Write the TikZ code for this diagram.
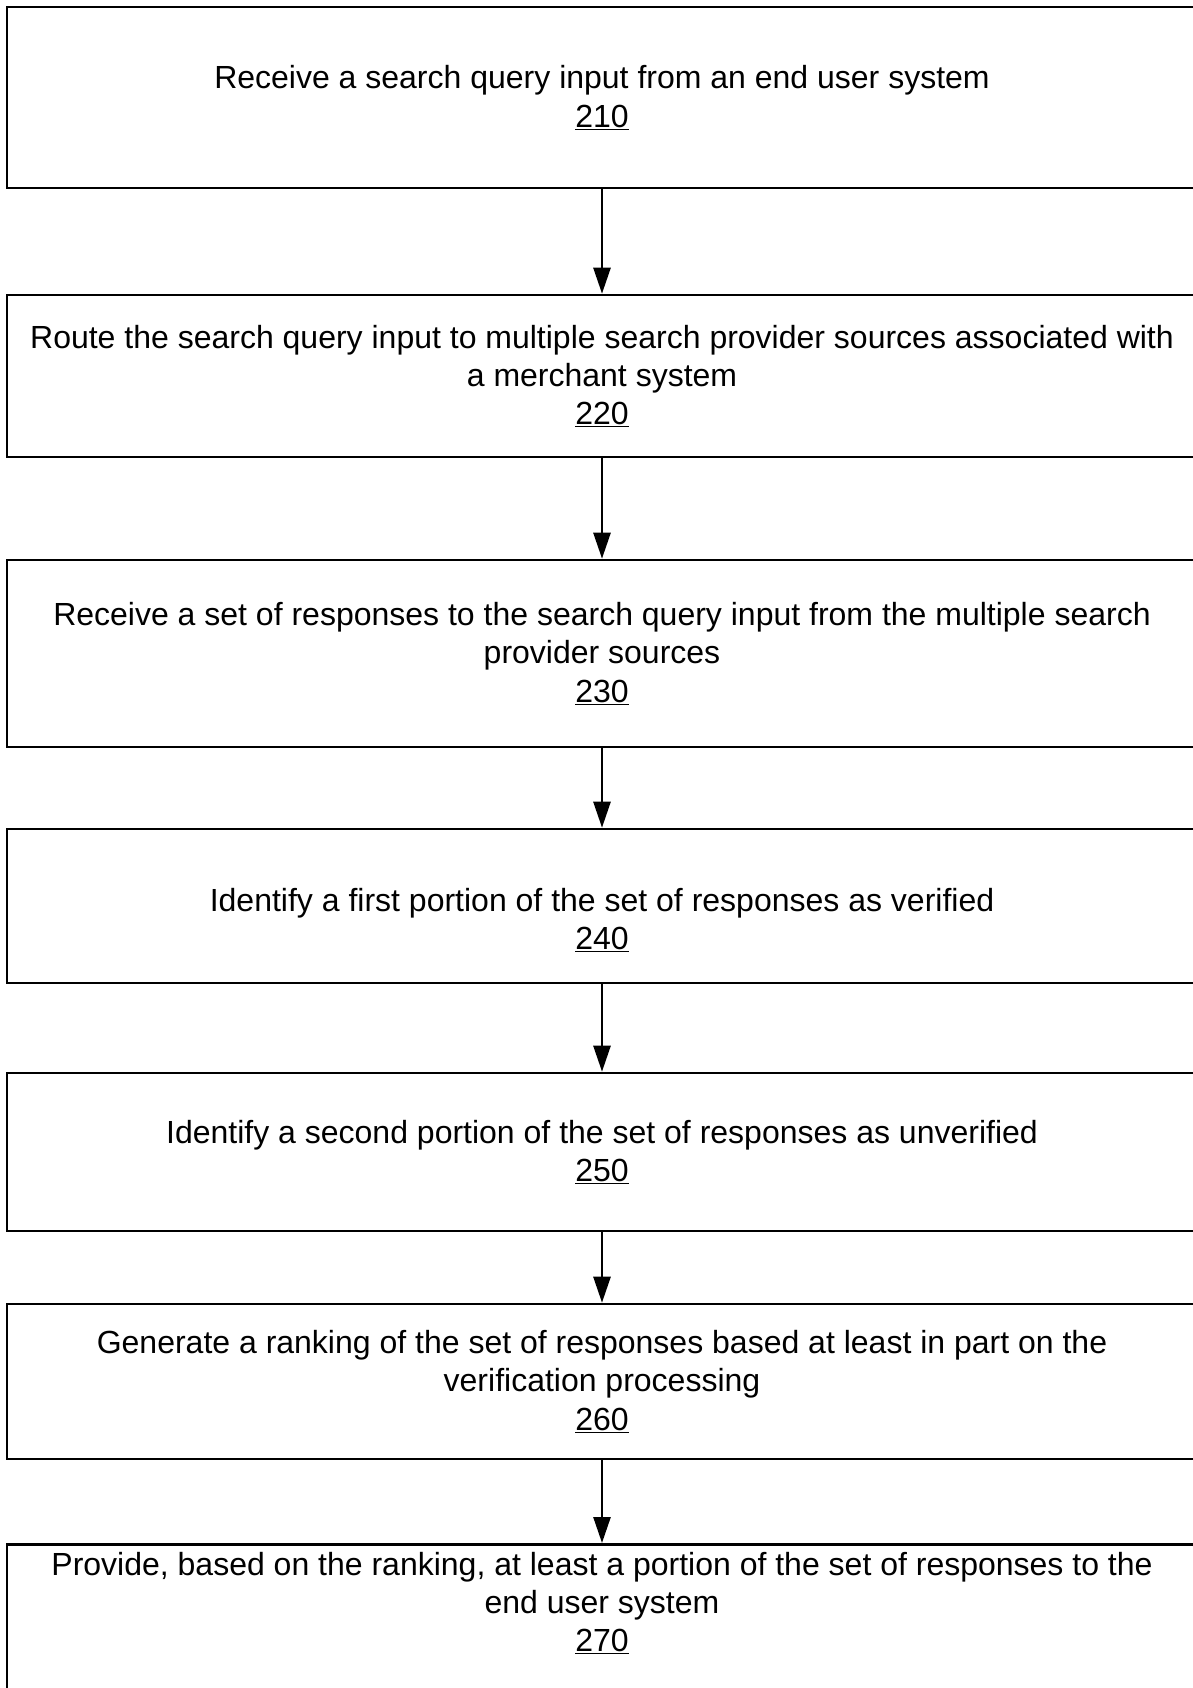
\documentclass[tikz,border=0pt]{standalone}
\usepackage{fontspec}
\setmainfont{Liberation Sans}
\usepackage{tikz}
\usetikzlibrary{arrows.meta,positioning}
\tikzset{
  stepbox/.style ={draw,line width=2.6pt,minimum width=1190pt,inner sep=0pt},
  steptext/.style={align=center,font=\fontsize{32}{38.3}\selectfont},
  flow/.style    ={-{Triangle[length=26pt,width=17pt]},line width=2.6pt},
}
\newcommand{\stepno}[1]{\underline{#1}}
\begin{document}
\begin{tikzpicture}[x=1pt,y=1pt]
  \useasboundingbox (0,0) rectangle (1193,-1688);
  \clip (0,0) rectangle (1193,-1688);
  % process steps
  \node[stepbox,steptext,minimum height=181pt] (s210) at (602,-97.5)
    {Receive a search query input from an end user system\\\stepno{210}};
  \node[stepbox,steptext,minimum height=162pt] (s220) at (602,-376)
    {Route the search query input to multiple search provider sources associated with\\a merchant system\\\stepno{220}};
  \node[stepbox,steptext,minimum height=187pt] (s230) at (602,-653.5)
    {Receive a set of responses to the search query input from the multiple search\\provider sources\\\stepno{230}};
  % text sits a little low in this one
  \node[stepbox,minimum height=154pt] (s240) at (602,-906) {};
  \node[steptext] (t240) at (602,-920)
    {Identify a first portion of the set of responses as verified\\\stepno{240}};
  \node[stepbox,steptext,minimum height=158pt] (s250) at (602,-1152)
    {Identify a second portion of the set of responses as unverified\\\stepno{250}};
  \node[stepbox,steptext,minimum height=155pt] (s260) at (602,-1381.5)
    {Generate a ranking of the set of responses based at least in part on the\\verification processing\\\stepno{260}};
  % last step runs off the page
  \node[stepbox,anchor=north,minimum height=200pt] (s270) at (602,-1543) {};
  \node[steptext] (t270) at (602,-1603)
    {Provide, based on the ranking, at least a portion of the set of responses to the\\end user system\\\stepno{270}};
  % arrows
  \draw[flow] (s210.south) -- (s220.north);
  \draw[flow] (s220.south) -- (s230.north);
  \draw[flow] (s230.south) -- (s240.north);
  \draw[flow] (s240.south) -- (s250.north);
  \draw[flow] (s250.south) -- (s260.north);
  \draw[flow] (s260.south) -- (s270.north);
\end{tikzpicture}
\end{document}
